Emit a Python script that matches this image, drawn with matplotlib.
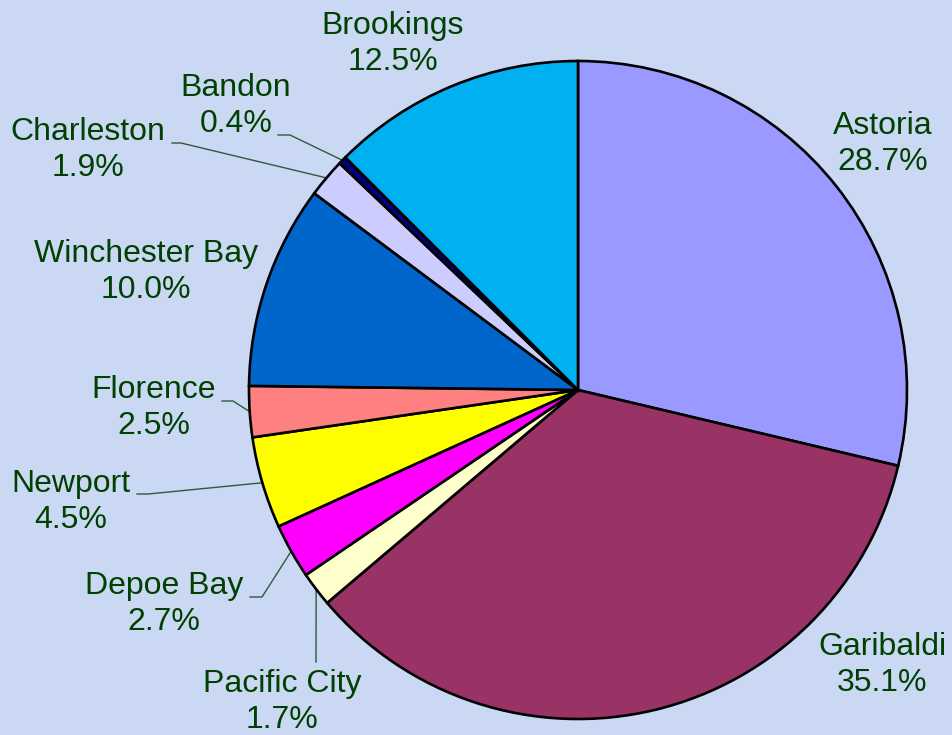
import numpy as np
import matplotlib.pyplot as plt

# port shares, clockwise from 12 o'clock
ports = ['Astoria', 'Garibaldi', 'Pacific City', 'Depoe Bay', 'Newport',
         'Florence', 'Winchester Bay', 'Charleston', 'Bandon', 'Brookings']
shares = [28.7, 35.1, 1.7, 2.7, 4.5, 2.5, 10.0, 1.9, 0.4, 12.5]
colors = ['#9999FF', '#993366', '#FFFFCC', '#FF00FF', '#FFFF00',
          '#FF8080', '#0066CC', '#CCCCFF', '#000080', '#00B0F0']

W, H = 952, 735
bg = '#CAD8F4'
txt = '#004000'
plt.rcParams['font.family'] = ['Liberation Sans', 'DejaVu Sans']

fig = plt.figure(figsize=(W / 100, H / 100), dpi=100, facecolor=bg)
ax = fig.add_axes([0, 0, 1, 1])
ax.set_facecolor(bg)

cx, cy, r = 578, H - 390, 329
wedges, _ = ax.pie(shares, colors=colors, startangle=90, counterclock=False,
                   center=(cx, cy), radius=r, frame=True,
                   wedgeprops=dict(edgecolor='black', linewidth=1.9))
ax.set_xlim(0, W)
ax.set_ylim(0, H)
ax.set_aspect('equal')
ax.axis('off')

# label centre (pixels from top-left), leader line points from label side
label_pos = {
    'Astoria': (883, 144, None),
    'Garibaldi': (882, 665, None),
    'Pacific City': (282, 702, [(316, 662)]),
    'Depoe Bay': (164, 604, [(250, 597), (262, 597)]),
    'Newport': (71, 502, [(137, 494), (148, 494)]),
    'Florence': (154, 408, [(222, 401), (233, 401)]),
    'Winchester Bay': (146, 272, None),
    'Charleston': (88, 150, [(172, 143), (181, 143)]),
    'Bandon': (236, 106, [(278, 135), (290, 135)]),
    'Brookings': (393, 44, None),
}

for w, name, val in zip(wedges, ports, shares):
    x, y, leader = label_pos[name]
    ax.text(x, H - y, f'{name}\n{val:.1f}%', ha='center', va='center',
            fontsize=23, color=txt, linespacing=1.27)
    if leader:
        mid = np.deg2rad((w.theta1 + w.theta2) / 2)
        ex, ey = cx + r * np.cos(mid), cy + r * np.sin(mid)
        xs = [p[0] for p in leader] + [ex]
        ys = [H - p[1] for p in leader] + [ey]
        ax.plot(xs, ys, color='#2E5A3A', linewidth=1.0, zorder=0.5)

fig.savefig('out.png', dpi=100, facecolor=bg)
